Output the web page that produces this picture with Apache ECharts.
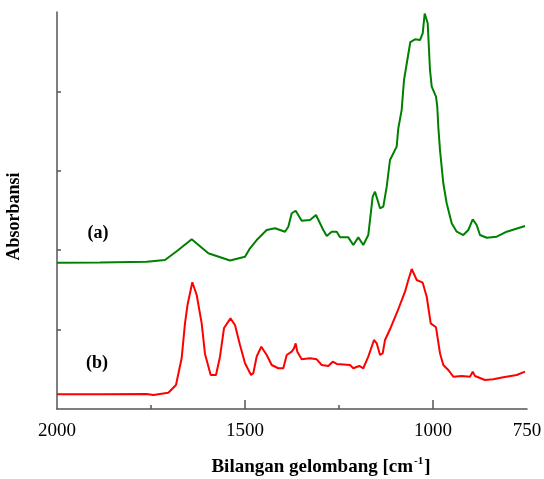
<!DOCTYPE html>
<html>
<head>
<meta charset="utf-8">
<script src="https://cdn.jsdelivr.net/npm/echarts@6/dist/echarts.min.js"></script>
<style>html,body{margin:0;padding:0;background:#fff}#c{width:544px;height:479px}</style>
</head>
<body>
<div id="c"></div>
<script>
// Spectrum (a) – green
var waveA = [2000,1885.6,1761.4,1712.8,1677.4,1641.8,1597.6,1539.9,1500,1486.7,1468.9,1442.3,1420.2,1393.6,1384.8,1375.8,1365.2,1349.2,1327.1,1311.2,1291.8,1282.7,1269.4,1256.1,1247.3,1225.3,1211.9,1198.7,1185.4,1172.1,1160.4,1154.2,1140.9,1132.2,1123.1,1114.4,1096.6,1092.3,1083.3,1077.1,1068.3,1060.3,1047.9,1034.6,1027.4,1022.1,1014.1,1010.6,1008,1003.4,992.0,988.6,985.9,981.4,972.6,963.6,950.3,936.9,919.4,906.1,894.4,883.8,875.0,857.2,830.6,803.9,755.3];
var absA  = [1.843,1.845,1.855,1.877,2.003,2.137,1.961,1.870,1.918,2.024,2.128,2.254,2.276,2.233,2.296,2.465,2.497,2.372,2.380,2.443,2.254,2.179,2.233,2.233,2.162,2.162,2.065,2.162,2.065,2.191,2.674,2.737,2.528,2.548,2.800,3.136,3.304,3.535,3.766,4.144,4.395,4.622,4.656,4.647,4.732,4.981,4.858,4.521,4.270,4.059,3.933,3.807,3.555,3.262,2.843,2.591,2.339,2.233,2.191,2.254,2.389,2.317,2.191,2.157,2.170,2.233,2.305];
// Spectrum (b) – red
var waveB = [2000,1885.6,1761.4,1743.9,1703.9,1683.5,1668.4,1659.6,1652.9,1640.1,1628.5,1615.2,1606.4,1591.2,1577.1,1566.5,1555.8,1538.6,1526.6,1513.3,1500,1484.0,1477.9,1468.9,1456.6,1442.3,1429.0,1411.4,1398.1,1389.1,1375.8,1369.7,1365.2,1360.9,1349.2,1327.1,1309.3,1296.0,1278.4,1266.7,1256.1,1220.7,1211.9,1196.0,1185.4,1172.1,1156.9,1149.7,1140.9,1133.8,1127.6,1114.4,1094.9,1074.4,1065.6,1056.6,1043.3,1027.4,1016.7,1006.1,992.0,981.4,972.6,959.3,946.0,923.7,901.6,894.4,888.3,861.7,839.6,813.0,777.4,755.3];
var absB  = [0.185,0.185,0.189,0.176,0.205,0.302,0.642,1.079,1.310,1.596,1.436,1.079,0.693,0.428,0.428,0.659,1.020,1.142,1.058,0.806,0.576,0.428,0.450,0.661,0.785,0.680,0.554,0.513,0.513,0.680,0.722,0.764,0.827,0.722,0.626,0.639,0.626,0.554,0.542,0.596,0.567,0.554,0.513,0.542,0.513,0.659,0.869,0.827,0.680,0.701,0.869,1.004,1.225,1.477,1.625,1.763,1.625,1.591,1.414,1.079,1.029,0.702,0.554,0.491,0.407,0.416,0.407,0.470,0.416,0.365,0.374,0.399,0.428,0.470];

var xTickLabels = [2000, 1500, 1000, 750];
var xMajorTicks = [1500, 1000];
var xMinorTicks = [1750, 1250];
var yTicks = [1, 2, 3, 4];
var seriesLabels = ['(a)', '(b)'];

function zip(w, a) { return w.map(function (v, i) { return [v, a[i]]; }); }

var font = "'Liberation Serif','Times New Roman',serif";
var axisColor = '#555';

var chart = echarts.init(document.getElementById('c'), null, {renderer: 'canvas'});
chart.setOption({
  animation: false,
  backgroundColor: '#fff',
  grid: {left: 57, right: 17, top: 12, bottom: 70, containLabel: false, outerBoundsMode: 'none'},
  xAxis: [{
    type: 'value', inverse: true, min: 750, max: 2000, interval: 250,
    axisLine: {show: true, lineStyle: {color: axisColor, width: 1.5}},
    axisTick: {show: true, inside: true, length: 4, customValues: xMinorTicks, lineStyle: {color: axisColor, width: 1.5}},
    axisLabel: {show: true, customValues: xTickLabels, margin: 13, color: '#000', fontFamily: font, fontSize: 19,
      formatter: function (v) { return String(v); }},
    splitLine: {show: false},
    name: '{b|Bilangan gelombang [cm}{s|-1}{b|]}',
    nameLocation: 'middle', nameGap: 47,
    nameTextStyle: {
      padding: [0, 0, 0, 58],
      rich: {
        b: {fontFamily: font, fontSize: 19, fontWeight: 'bold', color: '#000', lineHeight: 22},
        s: {fontFamily: font, fontSize: 11, fontWeight: 'bold', color: '#000', verticalAlign: 'top', lineHeight: 22, padding: [0, 1, 8, 1]}
      }
    }
  }, {
    type: 'value', inverse: true, min: 750, max: 2000, interval: 250, position: 'bottom',
    axisLine: {show: false},
    axisTick: {show: true, inside: true, length: 9, customValues: xMajorTicks, lineStyle: {color: axisColor, width: 1.5}},
    axisLabel: {show: false},
    splitLine: {show: false}
  }],
  yAxis: {
    type: 'value', min: 0, max: 5, interval: 1,
    axisLine: {show: true, lineStyle: {color: axisColor, width: 1.5}},
    axisTick: {show: true, inside: true, length: 4, customValues: yTicks, lineStyle: {color: axisColor, width: 1.5}},
    axisLabel: {show: false},
    splitLine: {show: false},
    name: 'Absorbansi', nameLocation: 'middle', nameGap: 34, nameRotate: 90,
    nameTextStyle: {fontFamily: font, fontSize: 18, fontWeight: 'bold', color: '#000', padding: [0, 12, 0, 0]}
  },
  series: [{
    type: 'line', name: '(a)', data: zip(waveA, absA), showSymbol: false, symbol: 'none',
    lineStyle: {color: '#008000', width: 2}, itemStyle: {color: '#008000'}
  }, {
    type: 'line', name: '(b)', data: zip(waveB, absB), showSymbol: false, symbol: 'none',
    lineStyle: {color: '#ff0000', width: 2}, itemStyle: {color: '#ff0000'}
  }],
  graphic: [
    {type: 'text', x: 98, y: 233, style: {text: seriesLabels[0], font: 'bold 18px ' + font, fill: '#000', align: 'center', verticalAlign: 'middle'}},
    {type: 'text', x: 97, y: 363, style: {text: seriesLabels[1], font: 'bold 18px ' + font, fill: '#000', align: 'center', verticalAlign: 'middle'}}
  ]
});
</script>
</body>
</html>
